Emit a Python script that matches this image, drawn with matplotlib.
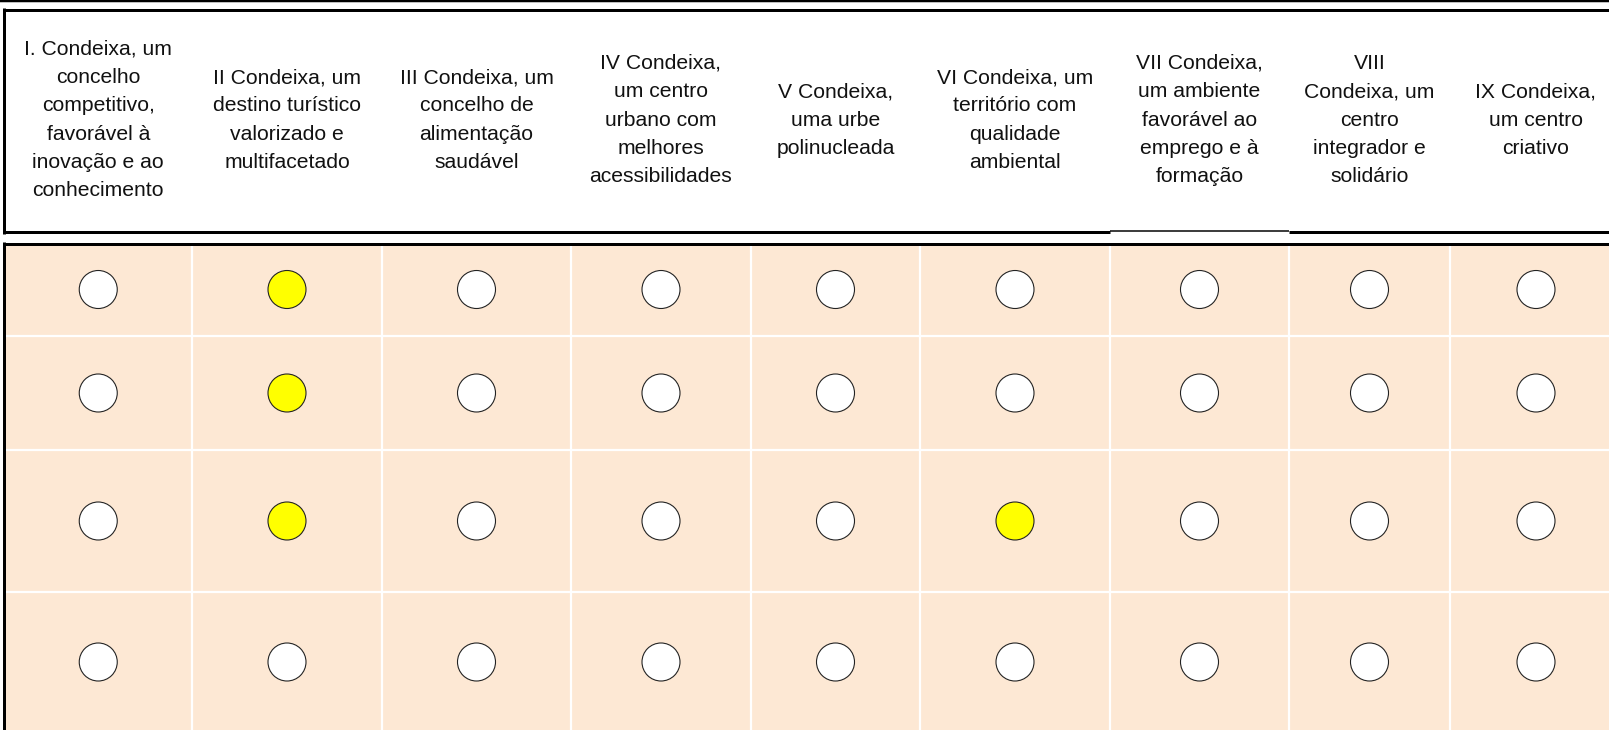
import matplotlib
matplotlib.use('Agg')
import numpy as np
from matplotlib import pyplot as plt

# eixos estratégicos (cabeçalho)
eixos = [
    "I. Condeixa, um\nconcelho\ncompetitivo,\nfavorável à\ninovação e ao\nconhecimento",
    "II Condeixa, um\ndestino turístico\nvalorizado e\nmultifacetado",
    "III Condeixa, um\nconcelho de\nalimentação\nsaudável",
    "IV Condeixa,\num centro\nurbano com\nmelhores\nacessibilidades",
    "V Condeixa,\numa urbe\npolinucleada",
    "VI Condeixa, um\nterritório com\nqualidade\nambiental",
    "VII Condeixa,\num ambiente\nfavorável ao\nemprego e à\nformação",
    "VIII\nCondeixa, um\ncentro\nintegrador e\nsolidário",
    "IX Condeixa,\num centro\ncriativo",
]

# 1 = círculo amarelo, 0 = círculo branco
destaque = np.array([
    [0, 1, 0, 0, 0, 0, 0, 0, 0],
    [0, 1, 0, 0, 0, 0, 0, 0, 0],
    [0, 1, 0, 0, 0, 1, 0, 0, 0],
    [0, 0, 0, 0, 0, 0, 0, 0, 0],
])

# layout em pixeis
W, H = 1609, 730
col_edges = np.array([4.5, 192, 382, 571, 751, 920, 1110, 1289, 1450, 1622])
row_edges = np.array([243, 336, 450, 592, 732])
col_c = (col_edges[:-1] + col_edges[1:]) / 2
row_c = (row_edges[:-1] + row_edges[1:]) / 2

fig = plt.figure(figsize=(W / 100, H / 100), dpi=100)
ax = fig.add_axes([0, 0, 1, 1])
ax.set_xlim(0, W)
ax.set_ylim(H, 0)
ax.axis('off')

px = 0.72  # 1 px em pontos

# fundo da grelha
ax.add_patch(plt.Rectangle((col_edges[0], row_edges[0]), W + 20, H, facecolor='#fde8d4',
                           edgecolor='none', zorder=0))
for x in col_edges[1:-1]:
    ax.plot([x, x], [row_edges[0], H + 5], color='white', lw=2.2 * px, zorder=1)
for y in row_edges[1:-1]:
    ax.plot([col_edges[0], W + 5], [y, y], color='white', lw=2.2 * px, zorder=1)

# bordas pretas
ax.plot([0, W], [1, 1], color='black', lw=2.5 * px, solid_capstyle='butt')
ax.plot([4.5, W + 5], [9.5, 9.5], color='black', lw=3 * px, solid_capstyle='butt')
ax.plot([4.5, 4.5], [8, 233.5], color='black', lw=3 * px, solid_capstyle='butt')
ax.plot([3, col_edges[6]], [232, 232], color='black', lw=3 * px, solid_capstyle='butt')
ax.plot([col_edges[6], col_edges[7]], [230.5, 230.5], color='black', lw=1.5 * px, solid_capstyle='butt')
ax.plot([col_edges[7], W + 5], [232, 232], color='black', lw=3 * px, solid_capstyle='butt')
ax.plot([3, W + 5], [243.5, 243.5], color='black', lw=3 * px, solid_capstyle='butt', zorder=3)
ax.plot([4.5, 4.5], [242, H + 5], color='black', lw=3 * px, solid_capstyle='butt', zorder=3)

# cabeçalho
for x, txt in zip(col_c, eixos):
    ax.text(x, 120, txt, ha='center', va='center', multialignment='center',
            fontsize=15.2, family='Liberation Sans', color='#111111', linespacing=1.62)

# círculos
xx, yy = np.meshgrid(col_c, row_c)
cores = np.where(destaque == 1, '#ffff00', 'white')
ax.scatter(xx.ravel(), yy.ravel(), s=(38 * px) ** 2, c=cores.ravel(),
           edgecolors='#222222', linewidths=1.1 * px, zorder=4)

fig.savefig('out.png', dpi=100)
